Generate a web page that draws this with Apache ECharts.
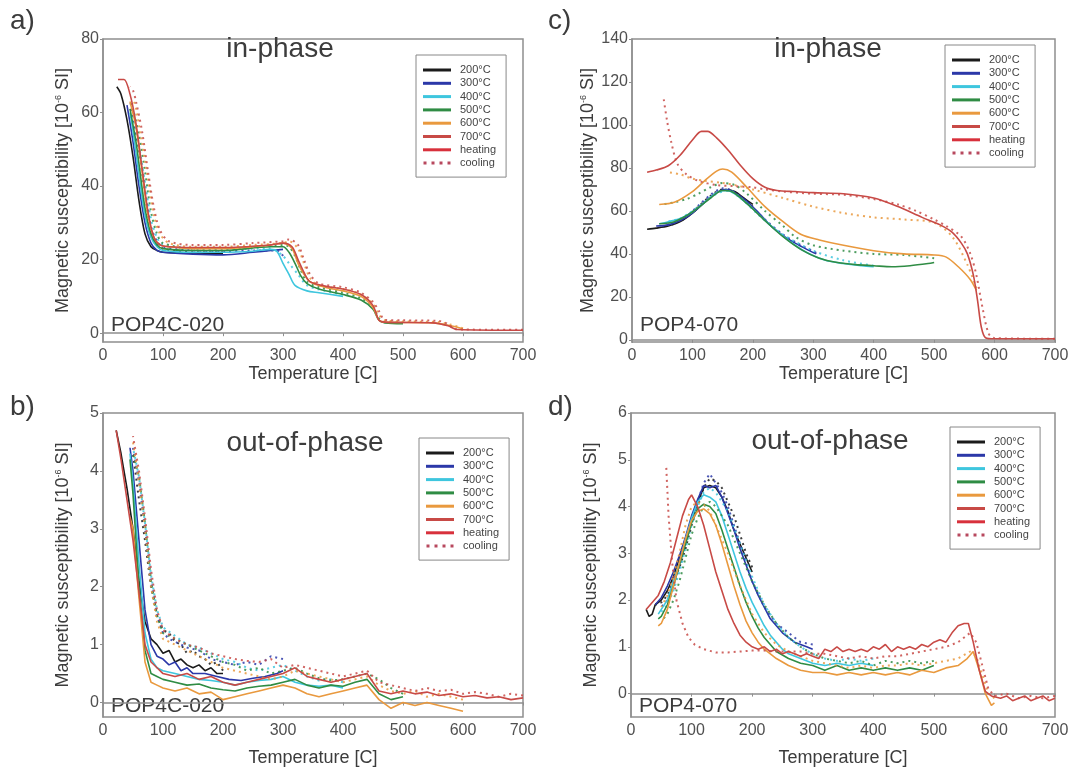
<!DOCTYPE html>
<html>
<head>
<meta charset="utf-8">
<title>Magnetic susceptibility vs temperature</title>
<script src="https://cdn.jsdelivr.net/npm/echarts@6.0.0/dist/echarts.min.js"></script>
<style>
  html, body { margin: 0; padding: 0; background: #fff; }
  #chart { width: 1076px; height: 778px; }
</style>
</head>
<body>
<div id="chart"></div>
<script>
// tick labels
const tempTicks = [0, 100, 200, 300, 400, 500, 600, 700]
const aTicks = [0, 20, 40, 60, 80]
const cTicks = [0, 20, 40, 60, 80, 100, 120, 140]
const bTicks = [0, 1, 2, 3, 4, 5]
const dTicks = [0, 1, 2, 3, 4, 5, 6]

const steps = ['200°C', '300°C', '400°C', '500°C', '600°C', '700°C']

// a) POP4C-020 in-phase  [temperature, value]
const aHeat200 = [[23,67],[30,65],[40,58],[50,48],[60,36],[70,27],[80,23.5],[90,22.5],[100,22],[150,21.8],[200,21.7]]
const aCool200 = [[200,22],[150,22],[120,22.5],[100,23],[90,24],[80,28],[70,38],[60,50],[50,60],[45,63]]
const aHeat300 = [[40,62],[50,52],[60,40],[70,30],[80,24.5],[90,22.5],[100,22],[150,21.5],[200,21.3],[250,22],[280,22.5],[300,22.8]]
const aCool300 = [[300,21],[290,22.5],[250,22.5],[200,22.3],[150,22.5],[100,23.5],[90,25],[80,29],[70,39],[60,50],[50,58],[45,62]]
const aHeat400 = [[45,60],[50,55],[60,43],[70,32],[80,26],[90,23.5],[100,22.5],[150,22],[200,22],[250,22.3],[280,22.8],[290,22.2],[300,19],[310,16],[320,13],[340,11.5],[360,11],[400,10]]
const aCool400 = [[400,10.5],[370,11.5],[340,13],[325,16],[310,19],[300,21],[280,23],[200,22.8],[150,23],[100,24],[90,26],[80,31],[70,41],[60,51],[50,59]]
const aHeat500 = [[45,61],[55,52],[60,46],[70,34],[80,27],[90,24],[100,23],[150,22.5],[200,22.5],[280,23.5],[300,23.5],[310,22],[320,19],[330,15.5],[340,13.5],[360,12],[400,10.5],[430,9],[450,6.5],[460,3.5],[470,2.8],[500,2.6]]
const aCool500 = [[500,2.8],[470,3],[460,4],[450,7],[430,9.5],[400,11],[360,12.5],[340,14],[330,17],[320,21],[310,23.5],[300,24],[250,23.5],[200,23],[150,23],[100,24.5],[90,27],[80,33],[70,44],[60,54],[50,61]]
const aHeat600 = [[45,63],[55,56],[65,44],[75,32],[85,26],[95,24],[110,23.5],[150,23],[200,23],[280,24],[300,24.5],[315,23],[325,19],[335,16],[345,14],[370,12.5],[400,11.5],[430,10],[450,7],[460,3.5],[470,3],[550,2.8],[580,2],[600,1.2]]
const aCool600 = [[600,1.3],[580,2.3],[560,3],[500,3.2],[470,3.5],[460,5],[450,8],[430,10.5],[400,12],[360,13],[345,15],[335,19],[325,23],[310,25],[300,24.5],[250,24],[200,23.5],[150,23.5],[110,24.5],[95,27],[85,32],[75,42],[65,52],[55,61],[50,64]]
const aHeat700 = [[25,69],[35,69],[45,65],[55,57],[65,45],[75,33],[85,26],[95,24],[110,23.5],[150,23.3],[200,23.3],[280,24],[300,24.5],[315,23.5],[325,20],[335,16.5],[345,14],[370,12.8],[400,12],[430,10.5],[450,7.5],[460,3.5],[470,3],[550,2.8],[575,2],[590,1],[700,0.8]]
const aCool700 = [[700,0.9],[600,1],[585,1.2],[575,2.5],[560,3.3],[500,3.5],[470,3.6],[460,6],[450,8.5],[430,11],[400,12.5],[360,13.5],[345,16],[335,20],[325,24],[310,25.5],[300,25],[250,24.5],[200,24],[150,24],[110,25],[95,28],[85,34],[75,44],[65,55],[55,63],[50,66],[45,67]]

// c) POP4-070 in-phase
const cHeat200 = [[25,51.5],[40,52],[60,53],[80,55],[100,59],[120,64],[140,68.5],[155,70],[170,69],[185,66],[200,63]]
const cCool200 = [[200,62],[180,66],[165,69],[150,70],[130,67],[110,62],[90,57],[70,54],[55,53]]
const cHeat300 = [[40,53],[60,53.5],[80,55.5],[100,59],[120,64],[140,68.5],[155,70],[170,68.5],[190,64.5],[210,59],[230,53],[250,48.5],[270,45],[290,42],[305,40]]
const cCool300 = [[305,40.5],[280,44],[250,49],[220,56],[190,64],[165,69.5],[150,70.5],[130,67.5],[110,62.5],[90,57.5],[70,54.5],[50,53]]
const cHeat400 = [[45,54],[60,55],[80,56.5],[100,59.5],[120,64],[140,68.5],[155,69.5],[170,68],[200,61],[230,53],[260,46],[290,40.5],[320,37],[350,35.5],[380,34.5],[400,34]]
const cCool400 = [[400,34.5],[350,37],[300,41.5],[250,49],[210,58],[180,66],[160,69.5],[140,68],[120,64],[100,60],[80,56.5],[60,55]]
const cHeat500 = [[45,54],[70,55],[100,59.5],[130,66],[150,69.5],[165,69],[190,63.5],[220,55.5],[250,48],[280,42],[310,38],[340,36],[370,35],[400,34.5],[430,34],[460,34.5],[490,35.5],[500,36]]
const cCool500 = [[500,38],[450,39.5],[400,40],[350,41.5],[300,44],[270,48],[250,53],[220,60],[190,68],[170,72],[150,73],[130,71],[110,68],[90,65.5],[70,64],[50,63]]
const cHeat600 = [[45,63],[70,64],[100,69],[120,74],[140,78.5],[150,79.5],[165,78],[190,71],[220,62],[250,55],[280,49],[310,46.5],[350,44],[400,41.5],[450,40],[500,39.5],[520,38.5],[540,34],[560,28],[570,23]]
const cCool600 = [[570,24],[555,35],[530,48],[500,54.5],[450,56],[400,57],[350,59],[300,62],[250,66],[200,70],[170,72],[150,73],[120,74],[100,75],[80,77],[60,78]]
const cHeat700 = [[25,78],[40,79],[60,81],[80,86],[100,93],[115,97],[125,97],[140,94],[160,88],[180,81],[200,75],[220,71],[240,69.5],[270,69],[300,68.5],[350,68],[400,66],[440,62],[480,57],[510,53.5],[530,50],[545,45],[555,40],[565,30],[572,18],[578,6],[585,1],[600,0.5],[700,0.5]]
const cCool700 = [[700,0.5],[600,0.8],[590,3],[580,15],[570,30],[560,40],[545,48],[520,53],[500,56],[470,60],[440,63],[400,65.5],[350,67.5],[300,68],[250,69],[220,70],[200,71],[170,71.5],[140,72],[110,74],[90,77],[75,82],[65,92],[58,102],[52,113]]

// b) POP4C-020 out-of-phase
const bHeat200 = [[22,4.7],[30,4.3],[40,3.7],[50,3.0],[60,2.1],[70,1.4],[80,1.1],[90,1.0],[100,0.85],[110,0.9],[120,0.7],[130,0.75],[140,0.65],[150,0.6],[160,0.65],[170,0.55],[180,0.6],[190,0.5],[200,0.5]]
const bCool200 = [[200,0.55],[190,0.7],[180,0.65],[170,0.75],[160,0.8],[150,0.9],[140,0.85],[130,1.0],[120,1.05],[110,1.2],[100,1.25],[90,1.5],[80,2.0],[70,2.8],[60,3.5],[50,4.3]]
const bHeat300 = [[45,4.4],[50,4.0],[60,2.8],[70,1.6],[80,1.0],[90,0.8],[100,0.75],[110,0.65],[120,0.7],[130,0.55],[140,0.6],[150,0.5],[170,0.5],[190,0.45],[210,0.4],[230,0.38],[250,0.42],[270,0.45],[290,0.5],[300,0.55]]
const bCool300 = [[300,0.75],[280,0.8],[260,0.65],[240,0.7],[220,0.65],[200,0.7],[180,0.75],[160,0.9],[140,0.95],[120,1.05],[110,1.1],[100,1.2],[90,1.5],[80,2.1],[70,3.0],[60,3.8],[50,4.4]]
const bHeat400 = [[45,4.3],[50,3.8],[60,2.4],[70,1.2],[80,0.75],[90,0.6],[100,0.55],[120,0.5],[140,0.45],[160,0.4],[180,0.38],[200,0.35],[220,0.3],[240,0.35],[260,0.38],[280,0.4],[300,0.45],[320,0.35],[340,0.3],[360,0.28],[380,0.3],[400,0.25]]
const bCool400 = [[400,0.35],[380,0.4],[360,0.38],[340,0.45],[320,0.55],[300,0.65],[280,0.6],[260,0.55],[240,0.6],[220,0.7],[200,0.75],[180,0.85],[160,0.95],[140,1.0],[120,1.15],[100,1.3],[90,1.6],[80,2.2],[70,3.1],[60,3.9],[50,4.4]]
const bHeat500 = [[45,4.2],[50,3.6],[60,2.0],[70,0.9],[80,0.5],[90,0.45],[100,0.4],[120,0.35],[140,0.3],[160,0.32],[180,0.25],[200,0.22],[220,0.2],[240,0.25],[260,0.28],[280,0.3],[300,0.35],[320,0.4],[340,0.3],[360,0.25],[380,0.3],[400,0.28],[420,0.35],[440,0.4],[460,0.15],[480,0.05],[500,0.1]]
const bCool500 = [[500,0.15],[480,0.25],[460,0.4],[440,0.5],[420,0.45],[400,0.4],[380,0.38],[360,0.42],[340,0.5],[320,0.6],[300,0.55],[280,0.5],[260,0.6],[240,0.55],[220,0.65],[200,0.7],[180,0.8],[160,0.9],[140,1.0],[120,1.1],[100,1.2],[90,1.5],[80,2.1],[70,3.1],[60,3.9],[50,4.3]]
const bHeat600 = [[45,3.2],[50,3.0],[60,1.8],[70,0.7],[80,0.35],[90,0.3],[100,0.25],[120,0.2],[140,0.25],[160,0.15],[180,0.18],[200,0.05],[220,0.1],[240,0.15],[260,0.2],[280,0.25],[300,0.3],[320,0.25],[340,0.15],[360,0.1],[380,0.15],[400,0.2],[420,0.25],[440,0.3],[460,0.05],[480,-0.1],[500,0.0],[520,-0.05],[540,0.0],[560,-0.05],[580,-0.1],[600,-0.15]]
const bCool600 = [[600,0.05],[580,0.1],[560,0.15],[540,0.1],[520,0.2],[500,0.15],[480,0.2],[460,0.3],[440,0.45],[420,0.4],[400,0.35],[380,0.4],[360,0.45],[340,0.5],[320,0.55],[300,0.45],[280,0.4],[260,0.45],[240,0.5],[220,0.55],[200,0.6],[180,0.7],[160,0.8],[140,0.9],[120,1.0],[100,1.1],[90,1.4],[80,2.0],[70,3.0],[60,3.8],[50,4.5]]
const bHeat700 = [[22,4.7],[30,4.2],[40,3.5],[50,2.8],[60,1.9],[70,1.0],[80,0.7],[90,0.6],[100,0.5],[120,0.45],[140,0.5],[160,0.4],[180,0.45],[200,0.35],[220,0.3],[240,0.35],[260,0.4],[280,0.45],[300,0.5],[320,0.6],[340,0.45],[360,0.4],[380,0.35],[400,0.4],[420,0.45],[440,0.5],[460,0.2],[480,0.15],[500,0.2],[520,0.15],[540,0.18],[560,0.12],[580,0.15],[600,0.1],[620,0.12],[640,0.08],[660,0.1],[680,0.05],[700,0.08]]
const bCool700 = [[700,0.12],[680,0.15],[660,0.1],[640,0.15],[620,0.18],[600,0.15],[580,0.22],[560,0.2],[540,0.25],[520,0.2],[500,0.25],[480,0.3],[460,0.35],[440,0.55],[420,0.5],[400,0.45],[380,0.5],[360,0.55],[340,0.6],[320,0.65],[300,0.6],[280,0.75],[260,0.7],[240,0.72],[220,0.75],[200,0.8],[180,0.85],[160,0.95],[140,1.0],[120,1.1],[100,1.25],[90,1.6],[80,2.3],[70,3.2],[60,4.0],[50,4.6]]

// d) POP4-070 out-of-phase
const dHeat200 = [[25,1.8],[30,1.65],[35,1.7],[40,1.9],[50,2.0],[60,2.2],[70,2.5],[80,2.9],[90,3.3],[100,3.7],[110,4.1],[120,4.4],[130,4.45],[140,4.4],[150,4.2],[160,3.9],[170,3.5],[180,3.2],[190,2.9],[200,2.6]]
const dCool200 = [[200,2.7],[190,3.0],[180,3.4],[170,3.8],[160,4.1],[150,4.4],[140,4.55],[130,4.6],[120,4.4],[110,4.0],[100,3.6],[90,3.1],[80,2.7],[70,2.4],[60,2.1],[50,1.95],[40,1.9]]
const dHeat300 = [[40,1.9],[50,2.05],[60,2.3],[70,2.6],[80,2.95],[90,3.35],[100,3.8],[110,4.15],[120,4.45],[130,4.4],[140,4.45],[150,4.2],[160,3.85],[170,3.5],[180,3.1],[190,2.75],[200,2.4],[210,2.1],[220,1.85],[230,1.6],[240,1.45],[250,1.3],[260,1.2],[270,1.1],[280,1.05],[290,1.0],[300,0.95]]
const dCool300 = [[300,1.05],[280,1.1],[260,1.3],[240,1.5],[220,1.85],[200,2.4],[180,3.2],[160,4.0],[150,4.3],[140,4.5],[130,4.7],[120,4.5],[110,4.1],[100,3.7],[90,3.2],[80,2.7],[70,2.3],[60,2.0],[50,1.85]]
const dHeat400 = [[45,1.7],[50,1.8],[60,2.0],[70,2.4],[80,2.8],[90,3.3],[100,3.75],[110,4.1],[120,4.25],[130,4.2],[140,4.1],[150,3.8],[160,3.4],[170,3.0],[180,2.6],[190,2.25],[200,1.95],[210,1.7],[220,1.45],[230,1.25],[240,1.1],[250,0.95],[260,0.85],[280,0.75],[300,0.65],[320,0.6],[340,0.65],[360,0.6],[380,0.65],[400,0.6]]
const dCool400 = [[400,0.75],[380,0.7],[360,0.75],[340,0.7],[320,0.75],[300,0.85],[280,1.0],[260,1.2],[240,1.5],[220,1.9],[200,2.5],[180,3.2],[160,3.9],[140,4.3],[130,4.4],[120,4.3],[110,4.0],[100,3.6],[90,3.1],[80,2.6],[70,2.2],[60,1.9],[50,1.75]]
const dHeat500 = [[45,1.6],[50,1.65],[60,1.9],[70,2.3],[80,2.75],[90,3.2],[100,3.65],[110,3.95],[120,4.05],[130,4.0],[140,3.85],[150,3.5],[160,3.1],[170,2.7],[180,2.3],[190,1.95],[200,1.65],[210,1.4],[220,1.2],[230,1.05],[240,0.9],[260,0.75],[280,0.65],[300,0.6],[320,0.5],[340,0.6],[360,0.5],[380,0.55],[400,0.5],[420,0.55],[440,0.5],[460,0.55],[480,0.5],[500,0.6]]
const dCool500 = [[500,0.7],[480,0.65],[460,0.7],[440,0.65],[420,0.7],[400,0.6],[380,0.7],[360,0.65],[340,0.7],[320,0.75],[300,0.85],[280,1.0],[260,1.2],[240,1.5],[220,1.9],[200,2.4],[180,3.0],[160,3.6],[140,4.0],[130,4.1],[120,4.0],[110,3.75],[100,3.4],[90,2.9],[80,2.4],[70,2.0],[60,1.7],[50,1.55]]
const dHeat600 = [[45,1.45],[50,1.5],[60,1.8],[70,2.3],[80,2.8],[90,3.3],[100,3.7],[110,3.9],[120,3.95],[130,3.85],[140,3.6],[150,3.2],[160,2.75],[170,2.3],[180,1.9],[190,1.55],[200,1.3],[210,1.1],[220,0.95],[240,0.75],[260,0.6],[280,0.5],[300,0.45],[320,0.45],[340,0.4],[360,0.45],[380,0.4],[400,0.45],[420,0.4],[440,0.45],[460,0.4],[480,0.5],[500,0.45],[520,0.55],[540,0.6],[555,0.75],[565,0.9],[575,0.5],[585,0.0],[595,-0.25],[600,-0.2]]
const dCool600 = [[600,-0.1],[590,0.0],[580,0.4],[570,0.8],[560,0.9],[540,0.75],[520,0.7],[500,0.65],[480,0.6],[460,0.65],[440,0.6],[420,0.6],[400,0.55],[380,0.6],[360,0.55],[340,0.6],[320,0.65],[300,0.7],[280,0.8],[260,0.9],[240,1.05],[220,1.3],[200,1.7],[180,2.3],[160,3.0],[140,3.6],[130,3.9],[120,4.05],[110,4.1],[100,4.0],[90,3.6],[80,3.0],[70,2.5],[60,2.1],[50,1.85]]
const dHeat700 = [[25,1.8],[35,1.95],[45,2.1],[55,2.4],[65,2.8],[75,3.3],[85,3.8],[95,4.15],[100,4.25],[110,4.0],[120,3.6],[130,3.1],[140,2.6],[150,2.2],[160,1.8],[170,1.5],[180,1.25],[190,1.1],[200,1.0],[210,0.95],[220,1.0],[230,0.9],[240,0.95],[250,0.85],[260,0.9],[270,0.85],[280,0.8],[290,0.85],[300,0.8],[310,0.75],[320,0.95],[330,0.9],[340,1.0],[350,0.9],[360,0.95],[370,0.9],[380,0.95],[390,0.9],[400,1.0],[410,0.95],[420,1.05],[430,0.9],[440,1.0],[450,0.95],[460,1.0],[470,0.95],[480,1.05],[490,1.0],[500,1.1],[510,1.15],[520,1.1],[530,1.3],[540,1.45],[550,1.5],[557,1.5],[565,1.1],[575,0.5],[585,0.05],[595,-0.05],[610,-0.1],[620,-0.05],[630,-0.15],[640,-0.1],[650,-0.05],[660,-0.15],[670,-0.1],[680,-0.05],[690,-0.15],[700,-0.1]]
const dCool700 = [[700,-0.05],[680,-0.1],[660,-0.05],[640,-0.1],[620,0.0],[600,-0.05],[590,0.1],[580,0.6],[570,1.1],[560,1.3],[550,1.2],[540,1.1],[520,1.0],[500,0.95],[480,0.9],[460,0.85],[440,0.8],[420,0.8],[400,0.75],[380,0.8],[360,0.75],[340,0.8],[320,0.85],[300,0.85],[280,0.9],[260,0.9],[240,0.9],[220,0.92],[200,0.92],[180,0.9],[160,0.88],[140,0.88],[120,0.95],[105,1.05],[95,1.2],[85,1.5],[75,2.0],[68,2.8],[62,3.8],[58,4.9]]

const stepColors = ['#1b1b1b', '#2b38a8', '#3ec6de', '#2f8c44', '#e9993e', '#c84a46']
const heatColor = '#d8313c'
const coolColor = '#b8485e'
const axisGray = '#8f8f8f'
const textGray = '#3c3c3c'
const fontFamily = 'Liberation Sans, Arial, sans-serif'

const panels = [
  { heat: [aHeat200, aHeat300, aHeat400, aHeat500, aHeat600, aHeat700],
    cool: [aCool200, aCool300, aCool400, aCool500, aCool600, aCool700], smooth: 0.3 },
  { heat: [cHeat200, cHeat300, cHeat400, cHeat500, cHeat600, cHeat700],
    cool: [cCool200, cCool300, cCool400, cCool500, cCool600, cCool700], smooth: 0.3 },
  { heat: [bHeat200, bHeat300, bHeat400, bHeat500, bHeat600, bHeat700],
    cool: [bCool200, bCool300, bCool400, bCool500, bCool600, bCool700], smooth: false },
  { heat: [dHeat200, dHeat300, dHeat400, dHeat500, dHeat600, dHeat700],
    cool: [dCool200, dCool300, dCool400, dCool500, dCool600, dCool700], smooth: false }
]

const grids = [
  { left: 103, top: 39, width: 420, height: 303 },
  { left: 632, top: 39, width: 423, height: 303 },
  { left: 103, top: 413, width: 420, height: 304 },
  { left: 631, top: 413, width: 424, height: 304 }
]
const yRanges = [
  { min: -2.4, max: 80, ticks: aTicks },
  { min: -1, max: 140, ticks: cTicks },
  { min: -0.25, max: 5, ticks: bTicks },
  { min: -0.5, max: 6, ticks: dTicks }
]
const xNameGaps = [20, 20, 32, 32]
const legendPos = [
  { left: 416, top: 55 },
  { left: 945, top: 45 },
  { left: 419, top: 438 },
  { left: 950, top: 427 }
]

// legend icons: plain bar for solid lines, row of dots for cooling
const dotsIcon = 'path://M0,0h3v3h-3z M8,0h3v3h-3z M16,0h3v3h-3z M24,0h3v3h-3z'
const legendData = steps.concat(['heating']).map(n => ({ name: n, icon: 'rect' }))
  .concat([{ name: 'cooling', icon: dotsIcon }])

const axisLine = { show: true, lineStyle: { color: axisGray, width: 1.5 } }
const axisLabel = { color: '#505050', fontSize: 16, fontFamily: fontFamily }

const xAxes = grids.map((g, i) => ({
  gridIndex: i,
  type: 'value',
  min: 0,
  max: 700,
  name: 'Temperature [C]',
  nameLocation: 'middle',
  nameGap: xNameGaps[i],
  nameTextStyle: { color: textGray, fontSize: 18, fontFamily: fontFamily },
  axisLine: axisLine,
  axisTick: { show: true, length: 3, customValues: tempTicks, lineStyle: { color: axisGray } },
  axisLabel: Object.assign({ customValues: tempTicks, margin: 6 }, axisLabel),
  splitLine: { show: false }
}))

const yAxes = grids.map((g, i) => ({
  gridIndex: i,
  type: 'value',
  min: yRanges[i].min,
  max: yRanges[i].max,
  name: 'Magnetic susceptibility [10{sup|-6} SI]',
  nameLocation: 'middle',
  nameGap: 31,
  nameRotate: 90,
  nameTextStyle: {
    color: textGray, fontSize: 18, fontFamily: fontFamily,
    rich: { sup: { fontSize: 9, verticalAlign: 'top', color: textGray, padding: [0, 0, 7, 0] } }
  },
  axisLine: axisLine,
  axisTick: { show: true, length: 3, customValues: yRanges[i].ticks, lineStyle: { color: axisGray } },
  axisLabel: Object.assign({ customValues: yRanges[i].ticks, margin: 4 }, axisLabel),
  splitLine: { show: false }
}))

const series = []
panels.forEach((p, pi) => {
  steps.forEach((name, si) => {
    series.push({
      name: name, type: 'line', xAxisIndex: pi, yAxisIndex: pi,
      data: p.heat[si], symbol: 'none', smooth: p.smooth, silent: true,
      itemStyle: { color: stepColors[si] },
      lineStyle: { color: stepColors[si], width: 1.6 }
    })
    series.push({
      name: name, type: 'line', xAxisIndex: pi, yAxisIndex: pi,
      data: p.cool[si], symbol: 'none', smooth: p.smooth, silent: true,
      itemStyle: { color: stepColors[si] },
      lineStyle: { color: stepColors[si], width: 2, type: [2, 4], opacity: 0.85 }
    })
  })
})
// legend-only entries
series.push({ name: 'heating', type: 'line', data: [], symbol: 'none',
  itemStyle: { color: heatColor }, lineStyle: { color: heatColor, width: 2 } })
series.push({ name: 'cooling', type: 'line', data: [], symbol: 'none',
  itemStyle: { color: coolColor }, lineStyle: { color: coolColor, width: 2, type: [2, 3] } })

const legends = legendPos.map(pos => ({
  data: legendData,
  orient: 'vertical',
  left: pos.left,
  top: pos.top,
  itemWidth: 28,
  itemHeight: 3,
  itemGap: 1.3,
  padding: [9, 10, 8, 7],
  borderColor: '#888',
  borderWidth: 1,
  selectedMode: false,
  textStyle: { fontSize: 11, lineHeight: 12, height: 12, color: '#444', fontFamily: 'Liberation Sans Narrow, Liberation Sans, sans-serif', padding: [0, 0, 0, 4] }
}))

function label(text, x, y, size, align) {
  return {
    type: 'text', x: x, y: y,
    style: { text: text, fill: textGray, fontSize: size, fontFamily: fontFamily,
      textAlign: align || 'left', textVerticalAlign: 'top' }
  }
}

const graphics = [
  label('a)', 10, 7, 28),
  label('c)', 548, 7, 28),
  label('b)', 10, 393, 28),
  label('d)', 548, 393, 28),
  label('in-phase', 280, 35, 28, 'center'),
  label('in-phase', 828, 35, 28, 'center'),
  label('out-of-phase', 305, 429, 28, 'center'),
  label('out-of-phase', 830, 427, 28, 'center'),
  label('POP4C-020', 111, 315, 21),
  label('POP4-070', 640, 315, 21),
  label('POP4C-020', 111, 696, 21),
  label('POP4-070', 639, 696, 21)
]

const chart = echarts.init(document.getElementById('chart'), null, { renderer: 'canvas' })
chart.setOption({
  backgroundColor: '#fff',
  animation: false,
  grid: grids.map(g => Object.assign({ show: true, borderColor: axisGray, borderWidth: 1.5, backgroundColor: 'transparent' }, g)),
  xAxis: xAxes,
  yAxis: yAxes,
  legend: legends,
  graphic: graphics,
  series: series
})
</script>
</body>
</html>
